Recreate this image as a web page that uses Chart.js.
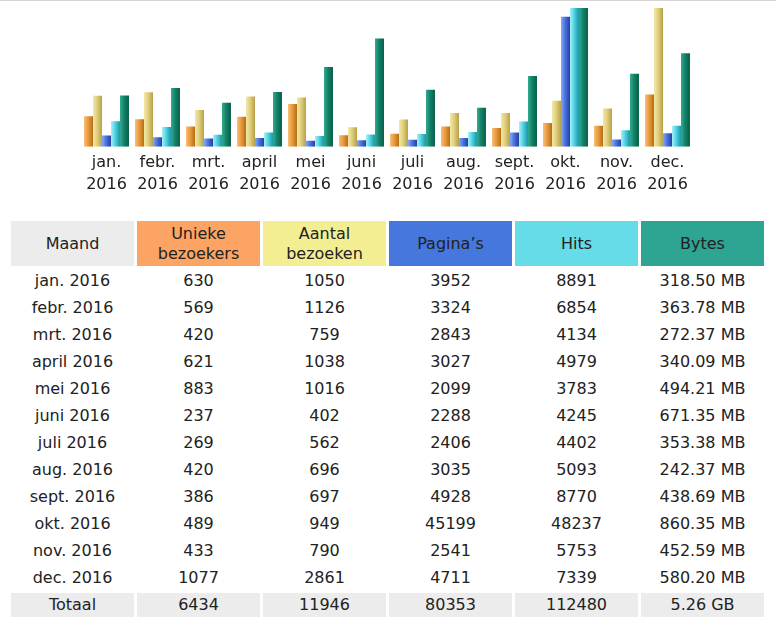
<!DOCTYPE html>
<html>
<head>
<meta charset="utf-8">
<script src="https://cdn.jsdelivr.net/npm/chart.js@4"></script>
<style>
  html, body { margin: 0; padding: 0; background: #fff; }
  body { width: 776px; height: 631px; position: relative; overflow: hidden;
         font-family: "DejaVu Sans", Verdana, sans-serif; color: #222; }
  #topline { position: absolute; left: 0; top: 0; width: 776px; height: 1px; background: #d4d4d4; }
  #chartBox { position: absolute; left: 0; top: 0; width: 776px; height: 208px; }
  table { position: absolute; left: 8px; top: 218px; border-collapse: separate;
          border-spacing: 3px; font-size: 16px; }
  td, th { width: 123px; padding: 0; text-align: center; font-weight: normal; height: 24px; line-height: 20px; }
  th { height: 45px; }
  .mo { background: #ececec; }
  .uv { background: #fba463; }
  .vi { background: #f3ee92; }
  .pg { background: #4577dc; }
  .ht { background: #66dce9; }
  .by { background: #2ea493; }
  tr.tot td { background: #ececec; }
</style>
</head>
<body>
<div id="topline"></div>
<div id="chartBox"><canvas id="statsChart"></canvas></div>
<table id="statsTable"></table>
<script>
const months = ['jan.', 'febr.', 'mrt.', 'april', 'mei', 'juni', 'juli', 'aug.', 'sept.', 'okt.', 'nov.', 'dec.'];
const year = '2016';
const visitors = [630, 569, 420, 621, 883, 237, 269, 420, 386, 489, 433, 1077];
const visits = [1050, 1126, 759, 1038, 1016, 402, 562, 696, 697, 949, 790, 2861];
const pages = [3952, 3324, 2843, 3027, 2099, 2288, 2406, 3035, 4928, 45199, 2541, 4711];
const hits = [8891, 6854, 4134, 4979, 3783, 4245, 4402, 5093, 8770, 48237, 5753, 7339];
const bytesMB = [318.50, 363.78, 272.37, 340.09, 494.21, 671.35, 353.38, 242.37, 438.69, 860.35, 452.59, 580.20];
const headers = ['Maand', ['Unieke', 'bezoekers'], ['Aantal', 'bezoeken'], 'Pagina’s', 'Hits', 'Bytes'];
const totals = ['Totaal', '6434', '11946', '80353', '112480', '5.26 GB'];

// gradient stops per series: light left edge -> dark right edge
const shades = [
  ['#f9be78', '#e99a3e', '#b66e12'],
  ['#f3e8a8', '#e0cf7c', '#b8a048'],
  ['#86aaf6', '#4a72e0', '#2240a2'],
  ['#a6f2f8', '#52d2e2', '#1896a8'],
  ['#34ac8c', '#12826a', '#0a5e46']
];

const catPct = 0.882;

function barFill(ctx) {
  const chart = ctx.chart;
  const s = shades[ctx.datasetIndex];
  const xs = chart.scales.x;
  if (!chart.chartArea || !xs || ctx.dataIndex === undefined) return s[1];
  const cat = xs.width / months.length;
  const w = cat * catPct / 5;
  const cx = xs.getPixelForValue(ctx.dataIndex) + (ctx.datasetIndex - 2) * w;
  const g = chart.ctx.createLinearGradient(cx - w / 2, 0, cx + w / 2, 0);
  g.addColorStop(0, s[0]);
  g.addColorStop(0.45, s[1]);
  g.addColorStop(1, s[2]);
  return g;
}

new Chart(document.getElementById('statsChart'), {
  type: 'bar',
  data: {
    labels: months.map(m => [m, year]),
    datasets: [
      { data: visitors, yAxisID: 'yV' },
      { data: visits, yAxisID: 'yV' },
      { data: pages, yAxisID: 'yP' },
      { data: hits, yAxisID: 'yP' },
      { data: bytesMB, yAxisID: 'yB' }
    ].map(d => ({ ...d, backgroundColor: barFill, borderWidth: 0,
                  categoryPercentage: catPct, barPercentage: 1 }))
  },
  options: {
    responsive: true,
    maintainAspectRatio: false,
    animation: false,
    layout: { padding: { left: 81, right: 83, top: 8, bottom: 7 } },
    plugins: { legend: { display: false }, tooltip: { enabled: false } },
    scales: {
      x: {
        grid: { display: false, drawTicks: false },
        border: { display: false },
        ticks: { color: '#222', padding: 6, font: { family: 'DejaVu Sans', size: 16, lineHeight: 1.32 }, maxRotation: 0 }
      },
      yV: { display: false, min: 0, max: Math.max(...visits) },
      yP: { display: false, min: 0, max: Math.max(...hits) },
      yB: { display: false, min: 0, max: Math.max(...bytesMB) }
    }
  }
});

// table from the same arrays
const tbl = document.getElementById('statsTable');
const cls = ['mo', 'uv', 'vi', 'pg', 'ht', 'by'];
let html = '<tr>' + headers.map((h, i) =>
  '<th class="' + cls[i] + '">' + (Array.isArray(h) ? h.join('<br>') : h) + '</th>').join('') + '</tr>';
months.forEach((m, i) => {
  const row = [m + ' ' + year, visitors[i], visits[i], pages[i], hits[i], bytesMB[i].toFixed(2) + ' MB'];
  html += '<tr>' + row.map(v => '<td>' + v + '</td>').join('') + '</tr>';
});
html += '<tr class="tot">' + totals.map(v => '<td>' + v + '</td>').join('') + '</tr>';
tbl.innerHTML = html;
</script>
</body>
</html>
